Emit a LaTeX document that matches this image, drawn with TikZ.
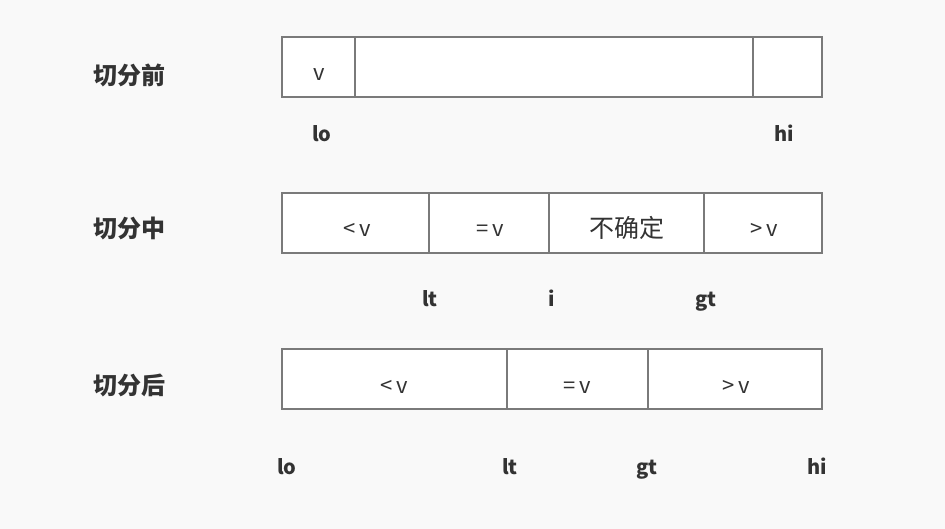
\documentclass[tikz,border=0pt]{standalone}
\usepackage{fontspec}
\setmainfont{Noto Sans CJK SC}
\definecolor{bg}{HTML}{F9F9F9}
\definecolor{ink}{HTML}{333333}
\definecolor{edge}{HTML}{7A7A7A}
\begin{document}
\begin{tikzpicture}[x=1pt,y=-1pt,
  cell/.style={draw=edge,line width=1.3pt,fill=white},
  celltxt/.style={text=ink,font=\fontsize{22}{25}\selectfont,inner sep=0pt,anchor=base},
  cjktxt/.style={text=ink,font=\fontsize{25}{28}\selectfont,inner sep=0pt,anchor=base},
  ptr/.style={text=ink,font=\fontsize{20}{23}\selectfont\bfseries,inner sep=0pt,anchor=base},
  phase/.style={text=ink,font=\fontsize{24}{28}\selectfont\bfseries,inner sep=0pt,anchor=base}]
\fill[bg] (0,0) rectangle (945,529);
\useasboundingbox (0,0) rectangle (945,529);
% row 1
\draw[cell] (282,37) rectangle (822,97);
\draw[edge,line width=1.3pt] (355,37) -- (355,97) (753,37) -- (753,97);
\node[phase] (p1) at (129,85) {切分前};
\node[celltxt] (v1) at (319,81) {v};
\node[ptr] (lo1) at (322,141.5) {lo};
\node[ptr] (hi1) at (784,141.5) {hi};
% row 2
\draw[cell] (282,193) rectangle (822,253);
\draw[edge,line width=1.3pt] (429,193) -- (429,253) (549,193) -- (549,253) (704,193) -- (704,253);
\node[phase] (p2) at (129,238) {切分中};
\node[celltxt] (a2) at (357,237) {<\,v};
\node[celltxt] (b2) at (490,237) {=\,v};
\node[cjktxt] (c2) at (627,237.5) {不确定};
\node[celltxt] (d2) at (764,237) {>\,v};
\node[ptr] (lt2) at (430,306.5) {lt};
\node[ptr] (i2) at (552,306.5) {i};
\node[ptr] (gt2) at (706,306.5) {gt};
% row 3
\draw[cell] (282,349) rectangle (822,409);
\draw[edge,line width=1.3pt] (507,349) -- (507,409) (648,349) -- (648,409);
\node[phase] (p3) at (129,394) {切分后};
\node[celltxt] (a3) at (394,393) {<\,v};
\node[celltxt] (b3) at (577,393) {=\,v};
\node[celltxt] (c3) at (736,393) {>\,v};
\node[ptr] (lo3) at (287,474.5) {lo};
\node[ptr] (lt3) at (510,474.5) {lt};
\node[ptr] (gt3) at (647,474.5) {gt};
\node[ptr] (hi3) at (817,474.5) {hi};
\end{tikzpicture}
\end{document}
